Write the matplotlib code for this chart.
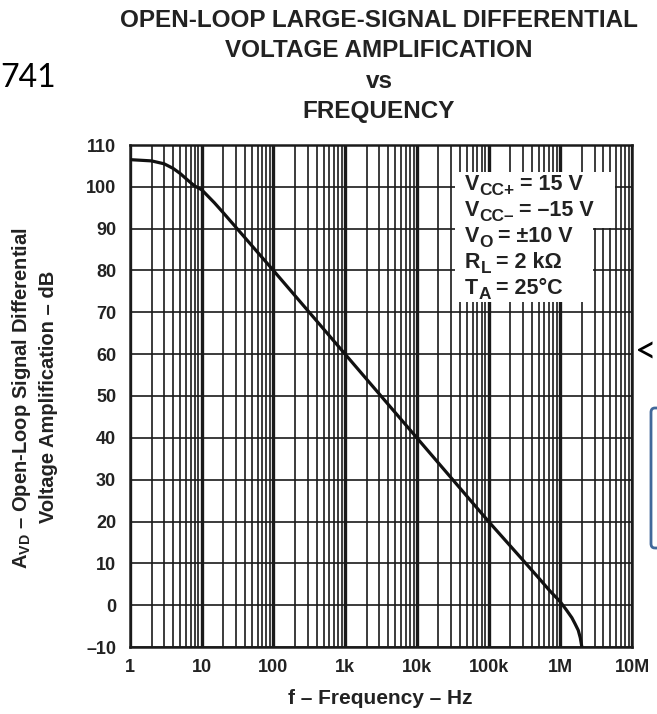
import matplotlib
matplotlib.use("Agg")
import matplotlib.pyplot as plt
from matplotlib.patches import Rectangle, FancyBboxPatch

plt.rcParams['font.family'] = ['Liberation Sans', 'DejaVu Sans']
plt.rcParams['mathtext.fontset'] = 'custom'
plt.rcParams['mathtext.rm'] = 'Liberation Sans:bold'
plt.rcParams['mathtext.it'] = 'Liberation Sans:bold'
plt.rcParams['mathtext.bf'] = 'Liberation Sans:bold'

# ---- data ----
freq_hz = [1, 2, 3, 4, 5, 6, 7, 8, 10, 15, 20, 100, 1e3, 1e4, 1e5,
           3e5, 5e5, 7e5, 1e6, 1.2e6, 1.45e6, 1.6e6, 1.78e6, 1.9e6, 2e6]
avd_db = [106.5, 106.2, 105.5, 104.4, 103.2, 102.0, 101.0, 100.2, 99.3, 96.2, 93.8,
          80, 60, 40, 20, 10.8, 6.5, 3.6, 0.8, -1.0, -3.0, -4.4, -6.0, -7.8, -10]

x_ticks = [1, 10, 100, 1e3, 1e4, 1e5, 1e6, 1e7]
x_tick_labels = ['1', '10', '100', '1k', '10k', '100k', '1M', '10M']
y_ticks = [-10, 0, 10, 20, 30, 40, 50, 60, 70, 80, 90, 100, 110]
y_tick_labels = ['\u201310', '0', '10', '20', '30', '40', '50', '60', '70', '80', '90', '100', '110']

# test conditions: (symbol, subscript, value)
cond_symbols = ['V', 'V', 'V', 'R', 'T']
cond_subscripts = ['CC+', 'CC\u2013', 'O', 'L', 'A']
cond_values = ['= 15 V', '= \u201315 V', '= \u00b110 V', '= 2 k\u03a9', '= 25\u00b0C']

title_lines = ['OPEN-LOOP LARGE-SIGNAL DIFFERENTIAL', 'VOLTAGE AMPLIFICATION', 'vs', 'FREQUENCY']

W, H = 657, 714
fig = plt.figure(figsize=(W / 100, H / 100), dpi=100)
fig.patch.set_facecolor('white')
renderer = fig.canvas.get_renderer()

ax = fig.add_axes([130 / W, (H - 647) / H, 502 / W, 502 / H])
ax.set_xscale('log')
ax.set_xlim(1, 1e7)
ax.set_ylim(-10, 110)

gc = '#1a1a1a'
tc = '#222222'
ax.set_axisbelow(True)
ax.set_xticks(x_ticks)
ax.set_xticklabels(x_tick_labels, fontsize=13, fontweight='bold', color=tc)
ax.set_yticks(y_ticks)
ax.set_yticklabels(y_tick_labels, fontsize=13, fontweight='bold', color=tc)
ax.xaxis.set_minor_locator(matplotlib.ticker.LogLocator(base=10, subs=range(2, 10), numticks=20))
ax.xaxis.set_minor_formatter(matplotlib.ticker.NullFormatter())
ax.tick_params(which='both', length=0)
ax.tick_params(axis='x', pad=9)
ax.tick_params(axis='y', pad=10)
ax.grid(which='major', axis='x', color=gc, linewidth=2.4)
ax.grid(which='minor', axis='x', color=gc, linewidth=1.2)
ax.grid(which='major', axis='y', color=gc, linewidth=1.2)
for s in ax.spines.values():
    s.set_linewidth(1.8)
    s.set_color(gc)

# white area behind the conditions text
ax.add_patch(Rectangle((0.647, 0.835), 0.966 - 0.647, 0.946 - 0.835, transform=ax.transAxes,
                       facecolor='white', edgecolor='none', zorder=1.5))
ax.add_patch(Rectangle((0.647, 0.687), 0.922 - 0.647, 0.838 - 0.687, transform=ax.transAxes,
                       facecolor='white', edgecolor='none', zorder=1.5))

ax.plot(freq_hz, avd_db, color='#111111', linewidth=2.3, zorder=3, solid_capstyle='butt')

# conditions, built piece by piece so the subscripts can be large
cfs = 15.5
for i, (sym, sub, val) in enumerate(zip(cond_symbols, cond_subscripts, cond_values)):
    base = 190 + 26 * i
    x = 465.0
    t = fig.text(x / W, 1 - base / H, sym, fontsize=cfs, fontweight='bold', color=tc,
                 ha='left', va='baseline')
    x += t.get_window_extent(renderer).width
    t = fig.text(x / W, 1 - (base + 5) / H, sub, fontsize=cfs * 0.8, fontweight='bold',
                 color=tc, ha='left', va='baseline')
    x += t.get_window_extent(renderer).width + 5
    fig.text(x / W, 1 - base / H, val, fontsize=cfs, fontweight='bold', color=tc,
             ha='left', va='baseline')

# title
for t, yb in zip(title_lines, [27, 57, 88, 118]):
    fig.text(379 / W, 1 - yb / H, t, fontsize=17.5, fontweight='bold', color=tc,
             ha='center', va='baseline')

fig.text(0, 1 - 87 / H, '741', fontsize=23, family=['Lato', 'DejaVu Sans'], color='black',
         ha='left', va='baseline')

fig.text(380 / W, 1 - 699 / H, 'f \u2013 Frequency \u2013 Hz', fontsize=15, fontweight='bold',
         color=tc, ha='center', va='center')

fig.text(22 / W, 1 - 398 / H, 'A$_{\\mathregular{VD}}$ \u2013 Open-Loop Signal Differential',
         fontsize=14.5, fontweight='bold', color=tc, rotation=90, ha='center', va='center')
fig.text(49 / W, 1 - 397 / H, 'Voltage Amplification \u2013 dB', fontsize=14.5, fontweight='bold',
         color=tc, rotation=90, ha='center', va='center')

# cut-off elements at the right edge
fig.text(657 / W, 1 - 353 / H, '<', fontsize=27, family=['Lato', 'DejaVu Sans'], color='black',
         ha='right', va='center')
fig.patches.append(FancyBboxPatch((651 / W, 1 - 548 / H), 40 / W, 140 / H,
                                  boxstyle='round,pad=0,rounding_size=0.006',
                                  transform=fig.transFigure, facecolor='none',
                                  edgecolor='#41689A', linewidth=2, figure=fig))

fig.savefig('out.png', dpi=100)
